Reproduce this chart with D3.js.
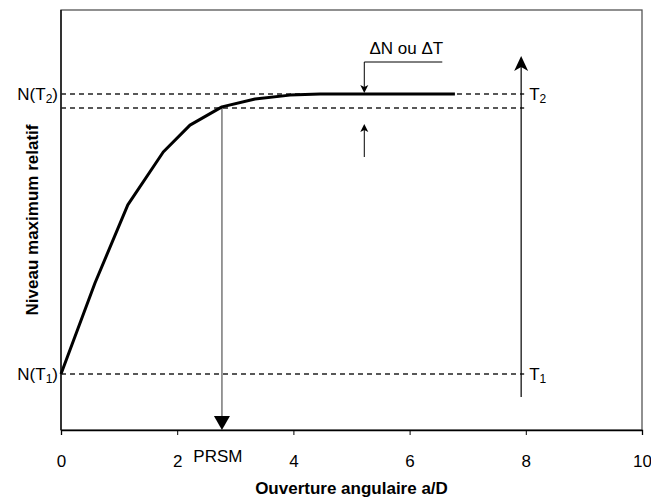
<!DOCTYPE html>
<html>
<head>
<meta charset="utf-8">
<script src="https://cdn.jsdelivr.net/npm/d3@7"></script>
<style>
  body { margin: 0; background: #fff; }
  text { font-family: "Liberation Sans", Arial, sans-serif; }
</style>
</head>
<body>
<div id="chart"></div>
<script>
// curve (a/D, relative level)
const curveX = [0, 0.585, 1.15, 1.76, 2.22, 2.77, 3.34, 3.94, 4.46, 6.78];
const curveY = [0.2, 0.525, 0.804, 0.993, 1.089, 1.154, 1.182, 1.196, 1.2, 1.2];
const xTicks = [0, 2, 4, 6, 8, 10];
const levelT1 = 0.2;
const levelT2 = 1.2;
const levelDelta = 1.15;
const prsmX = 2.77;
const tempX = 7.92;
const deltaX = 5.22;

const w = 651, h = 498;
const padL = 61, padR = 642, padT = 10, padB = 430;

const x = d3.scaleLinear().domain([0, 10]).range([padL, padR]);
const y = d3.scaleLinear().domain([0, 1.5]).range([padB, padT]);

const svg = d3.select('#chart').append('svg')
    .attr('width', w)
    .attr('height', h);

// frame
svg.append('rect')
    .attr('x', padL).attr('y', padT)
    .attr('width', padR - padL).attr('height', padB - padT)
    .attr('fill', 'none').attr('stroke', '#555').attr('stroke-width', 1.3);

// x axis
const xAxis = d3.axisBottom(x).tickValues(xTicks).tickSize(5).tickFormat(d3.format('d'));
const gx = svg.append('g')
    .attr('transform', 'translate(0,' + padB + ')')
    .call(xAxis);
gx.select('.domain').attr('stroke', '#000').attr('stroke-width', 1.3);
gx.selectAll('.tick line').attr('stroke', '#000');
gx.selectAll('.tick text')
    .attr('font-size', 17)
    .attr('font-family', '"Liberation Sans", Arial, sans-serif')
    .attr('y', 37)
    .attr('dy', null);

// y axis line
svg.append('line')
    .attr('x1', padL).attr('x2', padL)
    .attr('y1', padT).attr('y2', padB)
    .attr('stroke', '#000').attr('stroke-width', 1.3);

// dashed level lines
[levelT2, levelDelta, levelT1].forEach(v => {
    svg.append('line')
        .attr('x1', x(0)).attr('x2', x(tempX) + 3)
        .attr('y1', y(v)).attr('y2', y(v))
        .attr('stroke', '#222').attr('stroke-width', 1.3)
        .attr('stroke-dasharray', '5,4');
});

// arrow heads
function head(px, py, dir, len, half, back, fill) {
    // dir: 1 = pointing down, -1 = pointing up
    const p = d3.path();
    p.moveTo(px, py);
    p.lineTo(px - half, py - dir * len);
    p.lineTo(px, py - dir * back);
    p.lineTo(px + half, py - dir * len);
    p.closePath();
    svg.append('path').attr('d', p.toString()).attr('fill', fill || '#000');
}

// PRSM arrow
svg.append('line')
    .attr('x1', x(prsmX)).attr('x2', x(prsmX))
    .attr('y1', y(levelDelta)).attr('y2', padB - 10)
    .attr('stroke', '#777').attr('stroke-width', 1.5);
head(x(prsmX), padB, 1, 14, 8, 14);

// temperature arrow T1 -> T2
svg.append('line')
    .attr('x1', x(tempX)).attr('x2', x(tempX))
    .attr('y1', 397).attr('y2', 62)
    .attr('stroke', '#000').attr('stroke-width', 1.2);
head(x(tempX), 56, -1, 15, 7, 11);

// delta arrows
svg.append('polyline')
    .attr('points', [[x(deltaX) + 78, 62], [x(deltaX), 62], [x(deltaX), 88]].map(d => d.join(',')).join(' '))
    .attr('fill', 'none').attr('stroke', '#000').attr('stroke-width', 1);
head(x(deltaX), y(levelT2) - 1, 1, 8, 4, 6);
svg.append('line')
    .attr('x1', x(deltaX)).attr('x2', x(deltaX))
    .attr('y1', 157).attr('y2', 130)
    .attr('stroke', '#000').attr('stroke-width', 1);
head(x(deltaX), 124, -1, 8, 4, 6);

// curve
const pts = curveX.map((d, i) => [d, curveY[i]]);
svg.append('path')
    .datum(pts)
    .attr('d', d3.line().x(d => x(d[0])).y(d => y(d[1])))
    .attr('fill', 'none').attr('stroke', '#000').attr('stroke-width', 3)
    .attr('stroke-linejoin', 'round');

// labels
function subLabel(tx, ty, base, sub, tail, anchor) {
    const t = svg.append('text')
        .attr('x', tx).attr('y', ty + 6)
        .attr('font-size', 17)
        .attr('text-anchor', anchor);
    t.append('tspan').text(base);
    t.append('tspan').attr('font-size', 12).attr('dy', 3).text(sub);
    t.append('tspan').attr('dy', -3).text(tail);
}
subLabel(58, y(levelT2), 'N(T', '2', ')', 'end');
subLabel(58, y(levelT1), 'N(T', '1', ')', 'end');
subLabel(x(tempX) + 8, y(levelT2), 'T', '2', '', 'start');
subLabel(x(tempX) + 8, y(levelT1), 'T', '1', '', 'start');

svg.append('text')
    .attr('x', x(deltaX) + 42).attr('y', 54)
    .attr('font-size', 17).attr('text-anchor', 'middle')
    .text('\u0394N ou \u0394T');

svg.append('text')
    .attr('x', x(prsmX) - 4).attr('y', 462)
    .attr('font-size', 17).attr('text-anchor', 'middle')
    .text('PRSM');

svg.append('text')
    .attr('x', (padL + padR) / 2).attr('y', 494)
    .attr('font-size', 17).attr('font-weight', 'bold').attr('text-anchor', 'middle')
    .text('Ouverture angulaire a/D');

svg.append('text')
    .attr('transform', 'translate(38,' + ((padT + padB) / 2) + ') rotate(-90)')
    .attr('font-size', 17).attr('font-weight', 'bold').attr('text-anchor', 'middle')
    .text('Niveau maximum relatif');
</script>
</body>
</html>
